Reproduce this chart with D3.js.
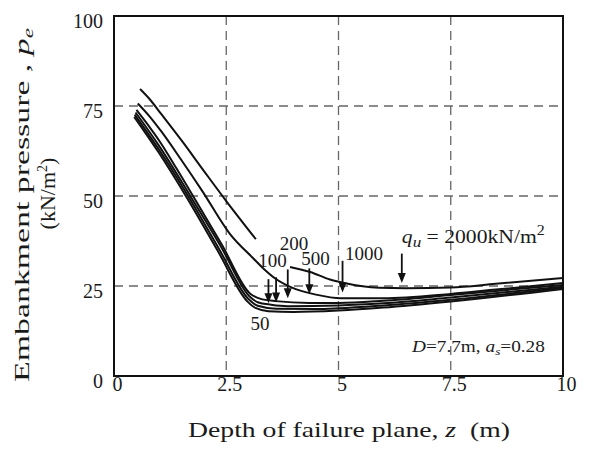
<!DOCTYPE html>
<html><head><meta charset="utf-8">
<script src="https://cdn.jsdelivr.net/npm/d3@7"></script>
<style>
body{margin:0;background:#fff}
text{font-family:"Liberation Serif","Times New Roman",serif;fill:#1a1a1a;white-space:pre}
</style>
</head><body><svg id="c" width="590" height="454"></svg>
<script>
// ---------- data ----------
const xTicks = [0, 2.5, 5, 7.5, 10];
const xTickLabels = ["0", "2.5", "5", "7.5", "10"];
const yTicks = [0, 25, 50, 75, 100];
const yTickLabels = ["0", "25", "50", "75", "100"];
const gridX = [2.5, 5, 7.5];
const gridY = [25, 50, 75];

// [z (m), pe (kN/m2)]; null = gap in the drawn line
const curve2000 = [[0.58,79.7],[0.8,76.8],[1.05,72.8],[1.5,65.5],[2.0,57.0],[2.5,48.6],[3.16,38.0],[3.5,null],[3.92,30.3],[4.37,28.9],[4.81,26.8],[5.1,25.9],[5.9,24.5],[6.5,24.4],[7.5,24.6],[8.5,25.6],[10,27.2]];
const curve1000 = [[0.53,75.7],[0.8,72.0],[1.05,68.0],[1.5,60.0],[1.96,51.5],[2.58,39.5],[3.1,32.7],[3.35,29.6],[3.6,27.0],[3.95,24.6],[4.5,22.6],[5.05,21.6],[6.0,21.6],[7.5,22.8],[8.5,24.0],[10,25.8]];
const curve500  = [[0.5,73.9],[0.8,69.0],[1.0,65.5],[1.4,57.5],[1.76,50.0],[2.4,36.5],[3.04,22.8],[3.25,21.5],[3.6,20.8],[4.35,20.3],[5.0,20.3],[6.0,20.9],[7.5,22.5],[10,25.3]];
const curve200  = [[0.48,73.2],[1.0,64.0],[1.7,50.0],[2.38,36.0],[3.02,22.1],[3.2,20.5],[3.5,19.8],[3.87,19.4],[5.0,19.6],[6.0,20.2],[7.5,21.8],[10,24.8]];
const curve100  = [[0.46,72.6],[1.0,62.9],[1.65,50.0],[2.33,35.5],[3.0,21.3],[3.2,19.5],[3.61,18.7],[4.5,18.6],[5.0,18.8],[6.0,19.6],[7.5,21.2],[10,24.5]];
const curve50   = [[0.45,72.0],[1.0,62.0],[1.6,50.0],[2.3,35.0],[2.98,20.6],[3.15,18.9],[3.44,18.0],[4.0,17.8],[5.0,18.2],[6.0,19.0],[7.5,20.7],[10,24.2]];

// arrows marking each curve's critical depth
const arrowZ   = [3.44, 3.61, 3.87, 4.35, 5.09, 6.41];
const arrowTop = [26.9, 27.4, 29.6, 29.9, 32.0, 34.0];
const arrowTip = [20.2, 20.4, 21.6, 22.7, 23.2, 25.8];

// qu labels
const labelText = ["50", "100", "200", "500", "1000"];
const labelZ    = [3.25, 3.53, 4.01, 4.49, 5.57];
const labelPe   = [12.8, 30.4, 35.0, 30.8, 32.2];

// ---------- drawing ----------
const svg = d3.select("#c");
const L = 114, R = 563, T = 16, B = 376;
const x = d3.scaleLinear().domain([0, 10]).range([L, R]);
const y = d3.scaleLinear().domain([0, 100]).range([B, T]);

// place text at (px,py) with rotation, stretched along its reading direction to a target length
function place(sel, px, py, rot, target) {
  let s = 1;
  if (target) s = target / sel.node().getComputedTextLength();
  sel.attr("transform", `translate(${px},${py}) rotate(${rot}) scale(${s.toFixed(3)},1)`);
}

// grid
svg.append("g").selectAll("line").data(gridX).join("line")
  .attr("x1", d => x(d)).attr("x2", d => x(d)).attr("y1", T).attr("y2", B)
  .attr("stroke", "#666").attr("stroke-width", 1.3).attr("stroke-dasharray", "9,6");
svg.append("g").selectAll("line").data(gridY).join("line")
  .attr("y1", d => y(d)).attr("y2", d => y(d)).attr("x1", L).attr("x2", R)
  .attr("stroke", "#666").attr("stroke-width", 1.3).attr("stroke-dasharray", "9,6");

// axes (labels only)
const gx = svg.append("g").attr("transform", `translate(0,${B})`)
  .call(d3.axisBottom(x).tickValues(xTicks).tickFormat((d, i) => xTickLabels[i]).tickSize(0).tickPadding(1));
gx.select(".domain").remove();
gx.selectAll("text").attr("font-size", 20).attr("font-family", "Liberation Serif").attr("fill", "#1a1a1a").attr("dx", 3);

const gy = svg.append("g").attr("transform", `translate(${L},0)`)
  .call(d3.axisLeft(y).tickValues(yTicks).tickFormat((d, i) => yTickLabels[i]).tickSize(0).tickPadding(11));
gy.select(".domain").remove();
gy.selectAll("text").attr("font-size", 20).attr("font-family", "Liberation Serif").attr("fill", "#1a1a1a").attr("transform", "translate(0,5)");

// curves
const line = d3.line().defined(d => d[1] != null).x(d => x(d[0])).y(d => y(d[1])).curve(d3.curveMonotoneX);
const curves = [curve2000, curve1000, curve500, curve200, curve100, curve50];
svg.append("g").selectAll("path").data(curves).join("path")
  .attr("d", line).attr("fill", "none").attr("stroke", "#111").attr("stroke-width", 2);

// arrows
const ag = svg.append("g");
arrowZ.forEach((z, i) => {
  const ax = x(z), y0 = y(arrowTop[i]), y1 = y(arrowTip[i]);
  ag.append("line").attr("x1", ax).attr("x2", ax).attr("y1", y0).attr("y2", y1 - 7)
    .attr("stroke", "#111").attr("stroke-width", 1.8);
  ag.append("path").attr("d", `M${ax - 4},${y1 - 10}L${ax + 4},${y1 - 10}L${ax},${y1}Z`).attr("fill", "#111");
});

// qu labels
svg.append("g").selectAll("text").data(labelText).join("text")
  .attr("x", (d, i) => x(labelZ[i])).attr("y", (d, i) => y(labelPe[i]))
  .attr("text-anchor", "middle").attr("font-size", 19).text(d => d);

// qu = 2000 label
const q = svg.append("text").attr("font-size", 19);
q.append("tspan").attr("font-style", "italic").text("q");
q.append("tspan").attr("font-style", "italic").attr("font-size", 15).attr("dy", 4).text("u");
q.append("tspan").attr("dy", -4).text(" = 2000kN/m");
q.append("tspan").attr("font-size", 14).attr("dy", -8).text("2");
place(q, x(6.41), 243, 0, 143);

// D, as note
const n = svg.append("text").attr("font-size", 16);
n.append("tspan").attr("font-style", "italic").text("D");
n.append("tspan").text("=7.7m, ");
n.append("tspan").attr("font-style", "italic").text("a");
n.append("tspan").attr("font-style", "italic").attr("font-size", 11).attr("dy", 3).text("s");
n.append("tspan").attr("dy", -3).text("=0.28");
place(n, 412, 352, 0, 133);

// frame
svg.append("rect").attr("x", L).attr("y", T).attr("width", R - L).attr("height", B - T)
  .attr("fill", "none").attr("stroke", "#111").attr("stroke-width", 2);

// x title
const xt = svg.append("text").attr("text-anchor", "middle").attr("font-size", 22);
xt.append("tspan").text("Depth of failure plane, ");
xt.append("tspan").attr("font-style", "italic").text("z");
xt.append("tspan").text("  (m)");
place(xt, 349, 437, 0, 322);

// y title
const yt1 = svg.append("text").attr("text-anchor", "middle").attr("font-size", 22);
yt1.append("tspan").text("Embankment pressure , ");
yt1.append("tspan").attr("font-style", "italic").text("p");
yt1.append("tspan").attr("font-style", "italic").attr("font-size", 15).attr("dy", 4).text("e");
place(yt1, 28.5, 205, -90, 354);

const yt2 = svg.append("text").attr("text-anchor", "middle").attr("font-size", 22);
yt2.append("tspan").text("(kN/m");
yt2.append("tspan").attr("font-size", 14).attr("dy", -8).text("2");
yt2.append("tspan").attr("dy", 8).text(")");
place(yt2, 55, 193.5, -90, 0);
</script>
</body></html>
